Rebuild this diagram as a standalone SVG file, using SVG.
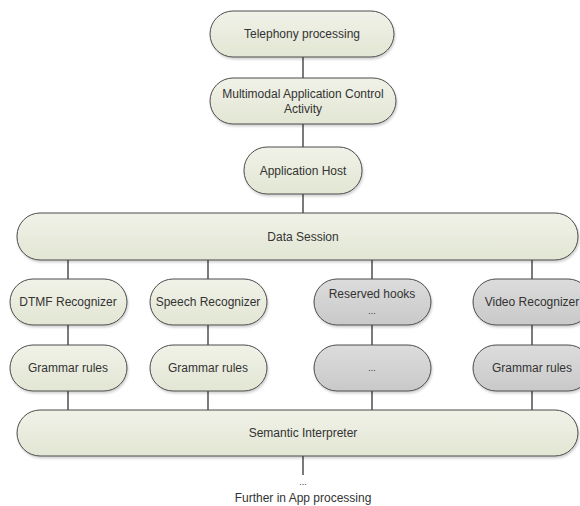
<svg xmlns="http://www.w3.org/2000/svg" width="580" height="506" viewBox="0 0 580 506">
<defs>
<linearGradient id="gG" x1="0" y1="0" x2="0" y2="1"><stop offset="0" stop-color="#f0f2e8"/><stop offset="1" stop-color="#e2e6d3"/></linearGradient>
<linearGradient id="gS" x1="0" y1="0" x2="0" y2="1"><stop offset="0" stop-color="#dcdcdc"/><stop offset="1" stop-color="#c9c9c9"/></linearGradient>
<filter id="sh" x="-10%" y="-10%" width="120%" height="140%"><feDropShadow dx="1" dy="2" stdDeviation="1" flood-color="#000" flood-opacity="0.18"/></filter>
</defs>
<style>
.n{stroke:#4a4a4a;stroke-width:1;filter:url(#sh)}
.g{fill:url(#gG)}
.s{fill:url(#gS)}
text{font-family:"Liberation Sans",Arial,sans-serif;font-size:12px;fill:#333;text-anchor:middle}
.c{stroke:#333;stroke-width:1.3;fill:none}
</style>
<g id="connectors">
<line class="c" x1="303" y1="57" x2="303" y2="78"/>
<line class="c" x1="303" y1="124" x2="303" y2="147"/>
<line class="c" x1="303" y1="194" x2="303" y2="213"/>
<line class="c" x1="68" y1="260" x2="68" y2="279"/>
<line class="c" x1="208" y1="260" x2="208" y2="279"/>
<line class="c" x1="372" y1="260" x2="372" y2="279"/>
<line class="c" x1="532" y1="260" x2="532" y2="279"/>
<line class="c" x1="68" y1="325" x2="68" y2="345"/>
<line class="c" x1="208" y1="325" x2="208" y2="345"/>
<line class="c" x1="372" y1="325" x2="372" y2="345"/>
<line class="c" x1="532" y1="325" x2="532" y2="345"/>
<line class="c" x1="68" y1="391" x2="68" y2="410"/>
<line class="c" x1="208" y1="391" x2="208" y2="410"/>
<line class="c" x1="372" y1="391" x2="372" y2="410"/>
<line class="c" x1="532" y1="391" x2="532" y2="410"/>
<line class="c" x1="303" y1="456" x2="303" y2="475"/>
</g>
<g id="telephony"><rect class="n g" x="210" y="11" width="184" height="46" rx="23"/><text x="302" y="38">Telephony processing</text></g>
<g id="multimodal"><rect class="n g" x="210" y="78" width="186" height="46" rx="23"/><text x="303" y="98">Multimodal Application Control</text><text x="303" y="113">Activity</text></g>
<g id="apphost"><rect class="n g" x="244" y="147" width="118" height="47" rx="23"/><text x="303" y="175">Application Host</text></g>
<g id="datasession"><rect class="n g" x="17" y="213" width="561" height="47" rx="23"/><text x="303" y="241">Data Session</text></g>
<g id="dtmf"><rect class="n g" x="10" y="279" width="117" height="46" rx="23"/><text x="68" y="306">DTMF Recognizer</text></g>
<g id="speech"><rect class="n g" x="150" y="279" width="117" height="46" rx="23"/><text x="208" y="306">Speech Recognizer</text></g>
<g id="reserved"><rect class="n s" x="314" y="279" width="117" height="46" rx="23"/><text x="372" y="298">Reserved hooks</text><text x="372" y="314" style="font-size:9px">...</text></g>
<g id="video"><rect class="n s" x="473" y="279" width="118" height="46" rx="23"/><text x="532" y="306">Video Recognizer</text></g>
<g id="grammar1"><rect class="n g" x="10" y="345" width="117" height="46" rx="23"/><text x="68" y="372">Grammar rules</text></g>
<g id="grammar2"><rect class="n g" x="150" y="345" width="117" height="46" rx="23"/><text x="208" y="372">Grammar rules</text></g>
<g id="grammar3"><rect class="n s" x="314" y="345" width="117" height="46" rx="23"/><text x="372" y="371" style="font-size:9px">...</text></g>
<g id="grammar4"><rect class="n s" x="473" y="345" width="118" height="46" rx="23"/><text x="532" y="372">Grammar rules</text></g>
<g id="semantic"><rect class="n g" x="17" y="410" width="561" height="46" rx="23"/><text x="303" y="437">Semantic Interpreter</text></g>
<g id="further"><text x="303" y="485" style="font-size:9px">...</text><text x="303" y="502">Further in App processing</text></g>
</svg>
